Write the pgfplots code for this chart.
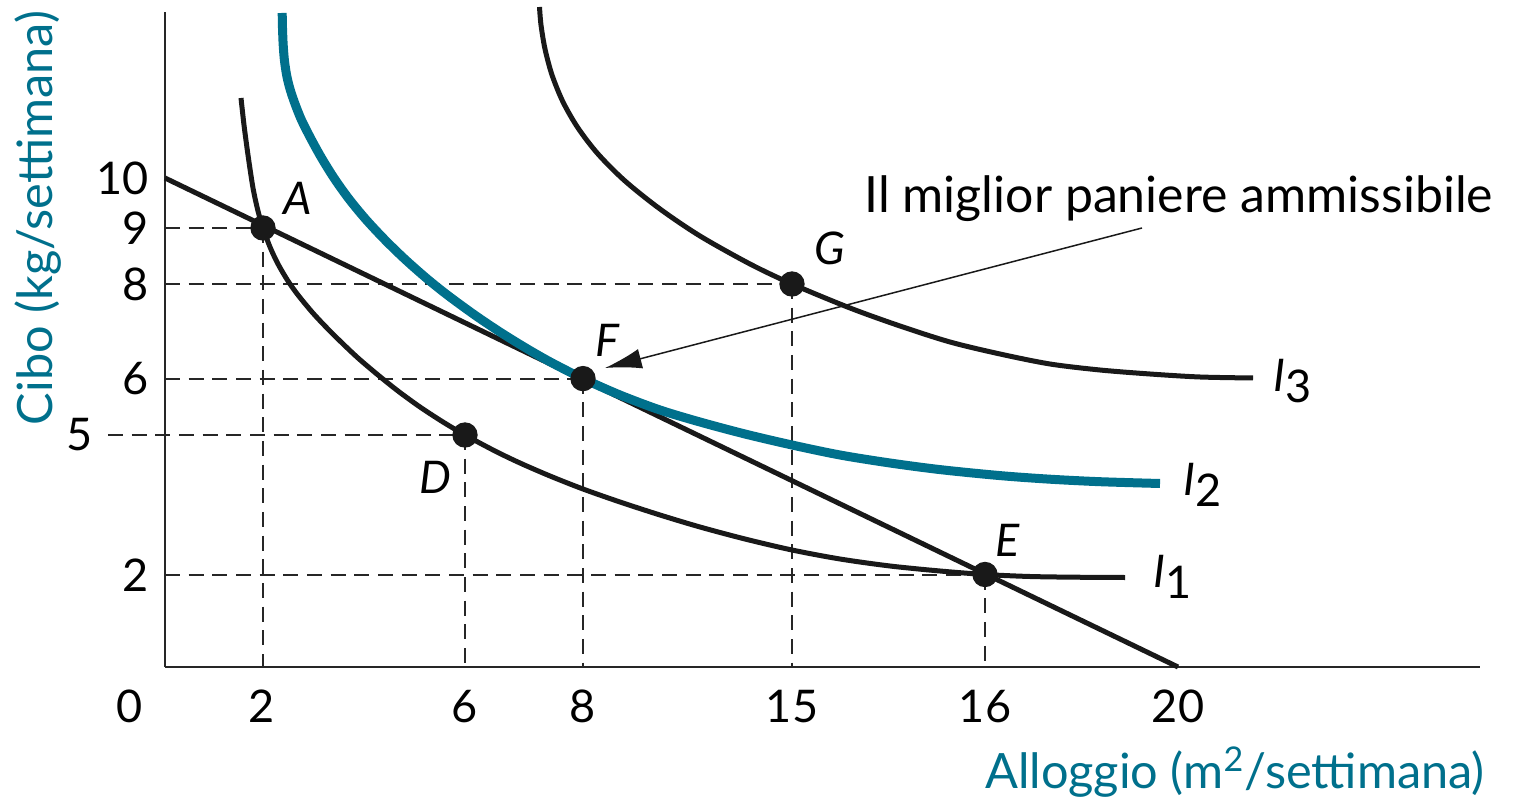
\documentclass[border=0pt]{standalone}
\usepackage{fontspec}
\setmainfont{Lato}
\usepackage{pgfplots}
\usepackage{pgfplotstable}
\pgfplotsset{compat=1.18}
\usetikzlibrary{arrows.meta}
\definecolor{tealc}{RGB}{0,112,140}

\pgfplotstableread{
x y
241 705
244 678
248 648
253 615
258 592
263 575
270 556
278 539
288 522
298 508
312 491
325 477
340 462
358 445
378 428
398 412
420 396
443 381
465 368
495 352
520 340
550 327
583 314
620 301
660 288
700 276
745 264
792 253
840 244
890 237
940 232
985 228.5
1030 226.5
1075 225.8
1125 225.5
}\curveI

\pgfplotstableread{
x y
282.2 790
282.5 775
283.2 758
284.5 742
286.8 727
290 714
294.5 700.5
301 684
310 666
321 646
334 625
349 604
366 583.4
385 563.1
405 543.7
427 524.3
448 507.5
475 487.8
500 471
525 455.5
550 441.2
583 424.4
620 408
660 393
700 381
745 369
792 358
840 348
890 340
940 333.4
1000 327.4
1050 323.8
1100 321.3
1160 319.5
}\curveII

\pgfplotstableread{
x y
539.5 796
541 778
545 754
552 728
563 701
578 675
598 649
625 622
660 594
700 567
750 539
792 519
850 495
900 477
950 461
1000 449
1050 439
1100 433
1150 429
1200 426
1253 425
}\curveIII

\pgfplotstableread{
x y
263 575
465 368
583 424.4
792 519
985 228.5
}\points

\begin{document}
\begin{tikzpicture}
\begin{axis}[
  scale only axis, x=0.3pt, y=0.3pt,
  xmin=165, xmax=1480, ymin=136, ymax=791,
  axis x line=bottom, axis y line=left,
  axis line style={-, line width=0.7pt, draw=black!85},
  xtick={262,465,583,792,985,1178},
  xticklabels={2,6,8,15,16,20},
  ytick={228,424,519,575,625},
  yticklabels={2,6,8,9,10},
  major tick length=0pt,
  tick style={draw=none},
  ticklabel style={font=\fontsize{13.5}{15}\selectfont},
  xticklabel style={anchor=base, yshift=-16.5pt},
  yticklabel style={anchor=east, xshift=-1.5pt},
  clip=false,
]
% dashed guides
\addplot[black!85, line width=0.6pt, dash pattern=on 4.5pt off 2.6pt] coordinates {(165,575) (263,575)};
\addplot[black!85, line width=0.6pt, dash pattern=on 4.5pt off 2.6pt] coordinates {(263,575) (263,136)};
\addplot[black!85, line width=0.6pt, dash pattern=on 4.5pt off 2.6pt] coordinates {(165,519) (792,519)};
\addplot[black!85, line width=0.6pt, dash pattern=on 4.5pt off 2.6pt] coordinates {(792,519) (792,136)};
\addplot[black!85, line width=0.6pt, dash pattern=on 4.5pt off 2.6pt] coordinates {(165,424.4) (583,424.4)};
\addplot[black!85, line width=0.6pt, dash pattern=on 4.5pt off 2.6pt] coordinates {(583,424.4) (583,136)};
\addplot[black!85, line width=0.6pt, dash pattern=on 4.5pt off 2.6pt] coordinates {(108,368) (465,368)};
\addplot[black!85, line width=0.6pt, dash pattern=on 4.5pt off 2.6pt] coordinates {(465,368) (465,136)};
\addplot[black!85, line width=0.6pt, dash pattern=on 4.5pt off 2.6pt] coordinates {(165,228.5) (985,228.5)};
\addplot[black!85, line width=0.6pt, dash pattern=on 4.5pt off 2.6pt] coordinates {(985,228.5) (985,136)};

% budget line
\addplot[black!90, line width=1.5pt] coordinates {(165,625) (1178,136)};
% indifference curves
\addplot[black!90, line width=1.5pt, smooth, tension=0.5] table {\curveI};
\addplot[tealc, line width=2.7pt, smooth, tension=0.5] table {\curveII};
\addplot[black!90, line width=1.5pt, smooth, tension=0.5] table {\curveIII};
% points
\addplot[only marks, mark=*, mark size=3.6pt, black!90] table {\points};

% annotation arrow
\draw[black!90, line width=0.45pt, -{Latex[length=11pt,width=6pt]}] (axis cs:1142,575) -- (axis cs:605,435);

\begin{scope}[font=\fontsize{13.5}{15}\selectfont]
\node[anchor=base] at (axis cs:130,136) [yshift=-16.5pt] {0};
\node at (axis cs:80,368) {5};
\node[anchor=base east, font=\fontsize{15}{17}\selectfont] at (axis cs:1505,590) {Il miglior paniere ammissibile};
\node at (axis cs:298,605) {\textit{A}};
\node at (axis cs:830,555) {\textit{G}};
\node at (axis cs:608,463) {\textit{F}};
\node at (axis cs:435,326) {\textit{D}};
\node at (axis cs:1008,263) {\textit{E}};
\node[anchor=west] at (axis cs:1142,226) {\textit{I}\raisebox{-0.45ex}{1}};
\node[anchor=west] at (axis cs:1172,318) {\textit{I}\raisebox{-0.45ex}{2}};
\node[anchor=west] at (axis cs:1262,422) {\textit{I}\raisebox{-0.45ex}{3}};
\node[rotate=90, text=tealc, font=\fontsize{14.6}{16}\selectfont] at (axis cs:38,585) {Cibo (kg/settimana)};
\node[text=tealc, font=\fontsize{14.6}{16}\selectfont] at (axis cs:1235,31) {Alloggio (m\textsuperscript{2}/settimana)};
\end{scope}

\coordinate (BL) at (axis cs:0,0);
\coordinate (TR) at (axis cs:1514,803);
\end{axis}
\pgfresetboundingbox
\path (BL) rectangle (TR);
\end{tikzpicture}
\end{document}
